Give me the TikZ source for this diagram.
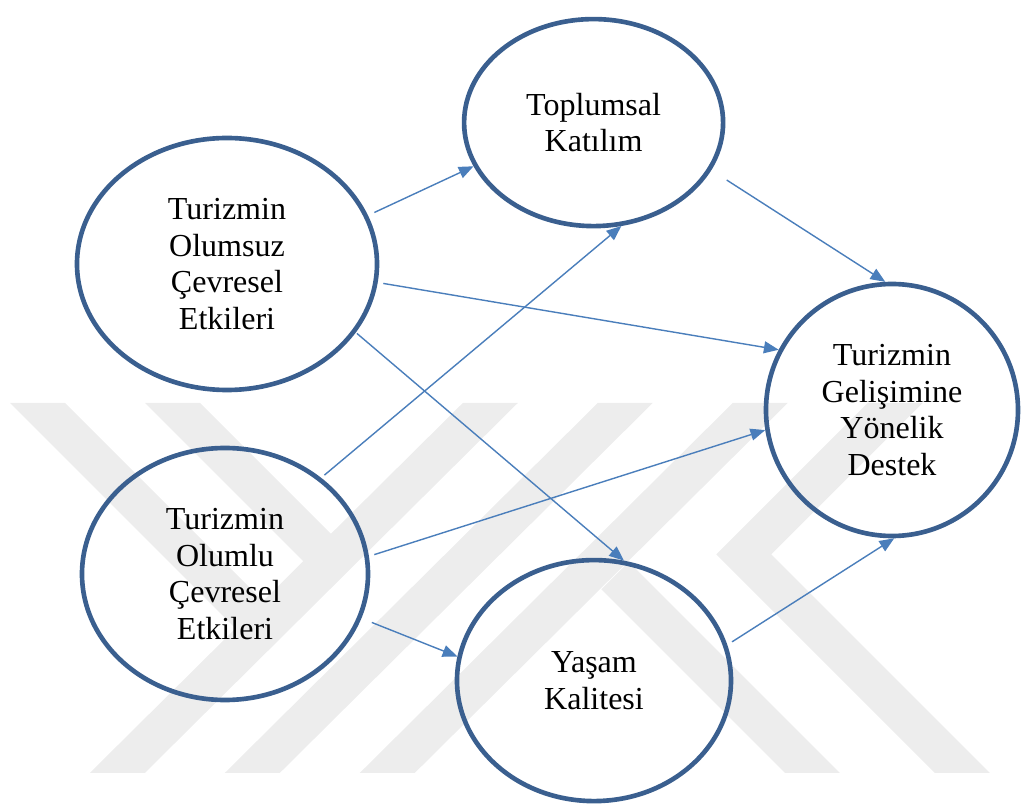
\documentclass[tikz,border=0pt]{standalone}
\usepackage{fontspec}
\setmainfont{Liberation Serif}
\usetikzlibrary{arrows.meta,shapes.geometric}
\definecolor{ringblue}{HTML}{3A5F8F}
\definecolor{lineblue}{HTML}{4A7EBB}
\definecolor{wmgray}{HTML}{EDEDED}
\tikzset{
  >=Stealth,
}

\begin{document}
\begin{tikzpicture}[
    factor/.style={ellipse, draw=ringblue, line width=3.3pt, inner sep=0pt, align=center, font=\fontsize{22.8}{26}\selectfont},
    arrow/.style={-{Triangle[length=10.5pt,width=8.5pt]}, draw=lineblue, line width=1pt},
    wmark/.style={fill=wmgray, draw=none}
]
\useasboundingbox (0,0) rectangle (25.675,20.225);

% watermark in the back
\begin{scope}[yshift=20.225cm, x=0.025cm, y=-0.025cm]
\foreach \k in {0,1,2}
  \fill[wmark] ({463+135*\k},403) -- ({518+135*\k},403) -- ({145+135*\k},773) -- ({90+135*\k},773) -- cycle;
\fill[wmark] (10,403) -- (65,403) -- (264,602) -- (236.5,629.5) -- cycle;
\fill[wmark] (145,403) -- (200,403) -- (331.5,534.5) -- (304,562) -- cycle;
\fill[wmark] (601.5,589.5) -- (629,562) -- (840,773) -- (785,773) -- cycle;
\fill[wmark] (868,403) -- (923,403) -- (771.5,554.5) -- (990,773) -- (935,773) -- (716.5,554.5) -- cycle;
\end{scope}

\node[factor, minimum width=7.5cm, minimum height=6.3cm] (neg) at (5.675,13.625) {Turizmin\\Olumsuz\\Çevresel\\Etkileri};
\node[factor, minimum width=7.15cm, minimum height=6.3cm] (pos) at (5.625,5.875) {Turizmin\\Olumlu\\Çevresel\\Etkileri};
\node[factor, minimum width=6.475cm, minimum height=5.175cm] (part) at (14.84,17.16) {Toplumsal\\Katılım};
\node[factor, minimum width=6.85cm, minimum height=6.025cm] (qol) at (14.85,3.21) {Yaşam\\Kalitesi};
\node[factor, minimum width=6.3cm, minimum height=6.3cm] (sup) at (22.3,9.975) {Turizmin\\Gelişimine\\Yönelik\\Destek};

\draw[arrow, shorten <=5pt] (neg.19) -- (part.200);
\draw[arrow, shorten <=4pt] (neg.-7) -- (sup.152);
\draw[arrow, shorten <=1pt] (neg.-28) -- (qol.76);
\draw[arrow, shorten <=13pt] (part.-22) -- (sup.93.5);
\draw[arrow, shorten <=3pt] (pos.45) -- (part.-75);
\draw[arrow, shorten <=4pt] (pos.7) -- (sup.189);
\draw[arrow, shorten <=8pt] (pos.-18) -- (qol.170);
\draw[arrow, shorten <=4pt] (qol.15) -- (sup.-89);
\end{tikzpicture}
\end{document}
